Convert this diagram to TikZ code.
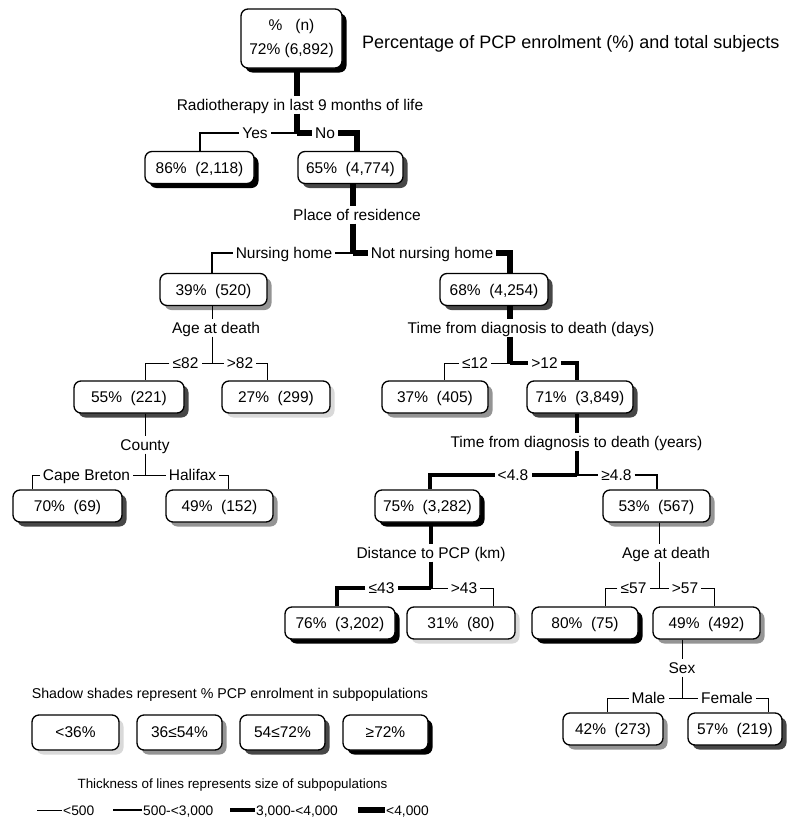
\documentclass[tikz,border=0pt]{standalone}
\usepackage{fontspec}
\setmainfont{Liberation Sans}
\usetikzlibrary{shadows}

\begin{document}
\begin{tikzpicture}[
  x=1pt, y=-1pt,
  font=\fontsize{15.5}{18}\selectfont,
  box/.style={draw, line width=1.3pt, rounded corners=7pt, fill=white, inner sep=0pt},
  cell/.style={box, minimum width=107pt, minimum height=32pt, text height=11pt, text depth=0pt},
  sh72/.style={drop shadow={shadow xshift=4.5pt, shadow yshift=-4.5pt, fill=black, opacity=1}},
  sh54/.style={drop shadow={shadow xshift=4.5pt, shadow yshift=-4.5pt, fill=black!72, opacity=1}},
  sh36/.style={drop shadow={shadow xshift=4.5pt, shadow yshift=-4.5pt, fill=black!42, opacity=1}},
  sh0/.style={drop shadow={shadow xshift=4.5pt, shadow yshift=-4.5pt, fill=black!15, opacity=1}},
  quest/.style={inner xsep=2pt, inner ysep=3pt, text height=11pt, text depth=0pt},
  branch/.style={inner xsep=3pt, inner ysep=0pt, text height=11pt, text depth=0pt},
  legtext/.style={font=\fontsize{13.8}{16}\selectfont, inner xsep=1pt, text height=10pt, text depth=0pt},
  sz1/.style={line width=1pt},
  sz2/.style={line width=2.5pt},
  sz3/.style={line width=4pt},
  sz4/.style={line width=5.5pt}
]
  \useasboundingbox (0,0) rectangle (792,819);

  % boxes
  \node[box, sh72, minimum width=101pt, minimum height=59pt, align=center] (root) at (291.5,38.5) {\%~~~(n)\\[6pt]72\% (6,892)};
  \node[anchor=west, inner sep=0pt, font=\fontsize{18}{20}\selectfont] (title) at (362,44) {Percentage of PCP enrolment (\%) and total subjects};

  \node[cell, sh72, minimum width=109pt] (n86) at (199.5,167.5) {86\%~~(2,118)};
  \node[cell, sh54, minimum width=105pt] (n65) at (350.5,167.5) {65\%~~(4,774)};
  \node[cell, sh36] (n39) at (213.5,289.5) {39\%~~(520)};
  \node[cell, sh54, minimum width=108pt] (n68) at (494,289.5) {68\%~~(4,254)};
  \node[cell, sh54, minimum width=110pt] (n55) at (129,397) {55\%~~(221)};
  \node[cell, sh0, minimum width=108pt] (n27) at (276,397) {27\%~~(299)};
  \node[cell, sh36, minimum width=106pt] (n37) at (435,397) {37\%~~(405)};
  \node[cell, sh54, minimum width=106pt] (n71) at (580,397) {71\%~~(3,849)};
  \node[cell, sh54, minimum width=109pt] (n70) at (67.5,506) {70\%~~(69)};
  \node[cell, sh36] (n49a) at (219.5,506) {49\%~~(152)};
  \node[cell, sh72, minimum width=105pt] (n75) at (427.5,506) {75\%~~(3,282)};
  \node[cell, sh36] (n53) at (656.5,506) {53\%~~(567)};
  \node[cell, sh72, minimum width=110pt] (n76) at (340,623) {76\%~~(3,202)};
  \node[cell, sh0, minimum width=108pt] (n31) at (461,623) {31\%~~(80)};
  \node[cell, sh72, minimum width=106pt] (n80) at (585,623) {80\%~~(75)};
  \node[cell, sh36] (n49b) at (706.5,623) {49\%~~(492)};
  \node[cell, sh36, minimum width=100pt] (n42) at (613,729) {42\%~~(273)};
  \node[cell, sh54, minimum width=94pt] (n57) at (735,729) {57\%~~(219)};

  % questions
  \node[quest] (q1) at (300,105) {Radiotherapy in last 9 months of life};
  \node[quest] (q2) at (357,215) {Place of residence};
  \node[quest] (q3) at (216,328) {Age at death};
  \node[quest] (q4) at (531,328) {Time from diagnosis to death (days)};
  \node[quest] (q5) at (145,445) {County};
  \node[quest] (q6) at (576.5,442) {Time from diagnosis to death (years)};
  \node[quest] (q7) at (431,553) {Distance to PCP (km)};
  \node[quest] (q8) at (666,553) {Age at death};
  \node[quest] (q9) at (682,668) {Sex};

  % splits and corners
  \coordinate (s1) at (297,133);
  \coordinate (s2) at (353,253);
  \coordinate (s3) at (212,363);
  \coordinate (s4) at (510,363);
  \coordinate (s5) at (145,475);
  \coordinate (s6) at (577,475);
  \coordinate (s7) at (431,588);
  \coordinate (s8) at (659,588);
  \coordinate (s9) at (682,698);

  \coordinate (k86) at (200,133);   \coordinate (k65) at (357,133);
  \coordinate (k39) at (212,253);   \coordinate (k68) at (510,253);
  \coordinate (k55) at (145,363);   \coordinate (k27) at (267,363);
  \coordinate (k37) at (444,363);   \coordinate (k71) at (577,363);
  \coordinate (k70) at (32,475);    \coordinate (k49a) at (228,475);
  \coordinate (k75) at (430,475);   \coordinate (k53) at (657,475);
  \coordinate (k76) at (337,588);   \coordinate (k31) at (493,588);
  \coordinate (k80) at (605,588);   \coordinate (k49b) at (714,588);
  \coordinate (k42) at (607,698);   \coordinate (k57) at (768,698);

  % branch labels
  \node[branch] (yes) at (255,133) {Yes};
  \node[branch] (no) at (325,133) {No};
  \node[branch] (nh) at (284,253) {Nursing home};
  \node[branch] (nnh) at (432,253) {Not nursing home};
  \node[branch] (le82) at (185.5,363) {≤82};
  \node[branch] (gt82) at (240,363) {>82};
  \node[branch] (le12) at (475,363) {≤12};
  \node[branch] (gt12) at (544.5,363) {>12};
  \node[branch] (cb) at (86.5,475) {Cape Breton};
  \node[branch] (hal) at (192.5,475) {Halifax};
  \node[branch] (lt48) at (513,475) {<4.8};
  \node[branch] (ge48) at (616.5,475) {≥4.8};
  \node[branch] (le43) at (381.5,588) {≤43};
  \node[branch] (gt43) at (464,588) {>43};
  \node[branch] (le57) at (633.5,588) {≤57};
  \node[branch] (gt57) at (685,588) {>57};
  \node[branch] (male) at (648.5,698) {Male};
  \node[branch] (fem) at (727,698) {Female};

  % radiotherapy
  \draw[sz4] (root.south -| s1) -- (q1.north -| s1);
  \draw[sz4] (q1.south -| s1) -- (s1);
  \draw[sz2] (s1) -- (yes.east);
  \draw[sz2] (yes.west) -- (k86) -- (k86 |- n86.north);
  \draw[sz4] (s1) -- (no.west);
  \draw[sz4] (no.east) -- (k65) -- (k65 |- n65.north);

  % place of residence
  \draw[sz4] (n65.south -| s2) -- (q2.north -| s2);
  \draw[sz4] (q2.south -| s2) -- (s2);
  \draw[sz2] (s2) -- (nh.east);
  \draw[sz2] (nh.west) -- (k39) -- (k39 |- n39.north);
  \draw[sz4] (s2) -- (nnh.west);
  \draw[sz4] (nnh.east) -- (k68) -- (k68 |- n68.north);

  % age at death (nursing home)
  \draw[sz1] (n39.south -| s3) -- (q3.north -| s3);
  \draw[sz1] (q3.south -| s3) -- (s3);
  \draw[sz1] (s3) -- (le82.east);
  \draw[sz1] (le82.west) -- (k55) -- (k55 |- n55.north);
  \draw[sz1] (s3) -- (gt82.west);
  \draw[sz1] (gt82.east) -- (k27) -- (k27 |- n27.north);

  % days
  \draw[sz4] (n68.south -| s4) -- (q4.north -| s4);
  \draw[sz4] (q4.south -| s4) -- (s4);
  \draw[sz1] (s4) -- (le12.east);
  \draw[sz1] (le12.west) -- (k37) -- (k37 |- n37.north);
  \draw[sz3] (s4) -- (gt12.west);
  \draw[sz3] (gt12.east) -- (k71) -- (k71 |- n71.north);

  % county
  \draw[sz1] (n55.south -| s5) -- (q5.north -| s5);
  \draw[sz1] (q5.south -| s5) -- (s5);
  \draw[sz1] (s5) -- (cb.east);
  \draw[sz1] (cb.west) -- (k70) -- (k70 |- n70.north);
  \draw[sz1] (s5) -- (hal.west);
  \draw[sz1] (hal.east) -- (k49a) -- (k49a |- n49a.north);

  % years
  \draw[sz3] (n71.south -| s6) -- (q6.north -| s6);
  \draw[sz3] (q6.south -| s6) -- (s6);
  \draw[sz3] (s6) -- (lt48.east);
  \draw[sz3] (lt48.west) -- (k75) -- (k75 |- n75.north);
  \draw[sz2] (s6) -- (ge48.west);
  \draw[sz2] (ge48.east) -- (k53) -- (k53 |- n53.north);

  % distance
  \draw[sz3] (n75.south -| s7) -- (q7.north -| s7);
  \draw[sz3] (q7.south -| s7) -- (s7);
  \draw[sz3] (s7) -- (le43.east);
  \draw[sz3] (le43.west) -- (k76) -- (k76 |- n76.north);
  \draw[sz1] (s7) -- (gt43.west);
  \draw[sz1] (gt43.east) -- (k31) -- (k31 |- n31.north);

  % age at death (>=4.8)
  \draw[sz1] (n53.south -| s8) -- (q8.north -| s8);
  \draw[sz1] (q8.south -| s8) -- (s8);
  \draw[sz1] (s8) -- (le57.east);
  \draw[sz1] (le57.west) -- (k80) -- (k80 |- n80.north);
  \draw[sz1] (s8) -- (gt57.west);
  \draw[sz1] (gt57.east) -- (k49b) -- (k49b |- n49b.north);

  % sex
  \draw[sz1] (n49b.south -| s9) -- (q9.north -| s9);
  \draw[sz1] (q9.south -| s9) -- (s9);
  \draw[sz1] (s9) -- (male.east);
  \draw[sz1] (male.west) -- (k42) -- (k42 |- n42.north);
  \draw[sz1] (s9) -- (fem.west);
  \draw[sz1] (fem.east) -- (k57) -- (k57 |- n57.north);

  % legend: shades
  \node[font=\fontsize{14.2}{16}\selectfont] (shlab) at (230,695) {Shadow shades represent \% PCP enrolment in subpopulations};
  \node[box, sh0, minimum width=87pt, minimum height=35pt] (lg1) at (75.5,732.5) {<36\%};
  \node[box, sh36, minimum width=85pt, minimum height=35pt] (lg2) at (179.5,732.5) {36≤54\%};
  \node[box, sh54, minimum width=85pt, minimum height=35pt] (lg3) at (282.5,732.5) {54≤72\%};
  \node[box, sh72, minimum width=85pt, minimum height=35pt] (lg4) at (385.5,732.5) {≥72\%};

  % legend: thickness
  \node[font=\fontsize{13.4}{16}\selectfont] (thlab) at (232.5,785) {Thickness of lines represents size of subpopulations};
  \node[legtext, anchor=west] (t1) at (62,810) {<500};
  \node[legtext, anchor=west] (t2) at (142,810) {500-<3,000};
  \node[legtext, anchor=west] (t3) at (255,810) {3,000-<4,000};
  \node[legtext, anchor=west] (t4) at (385,810) {<4,000};
  \draw[sz1] ([xshift=-25pt]t1.west) -- (t1.west);
  \draw[sz2] ([xshift=-29pt]t2.west) -- (t2.west);
  \draw[sz3] ([xshift=-25pt]t3.west) -- (t3.west);
  \draw[sz4] ([xshift=-27pt]t4.west) -- (t4.west);
\end{tikzpicture}
\end{document}
